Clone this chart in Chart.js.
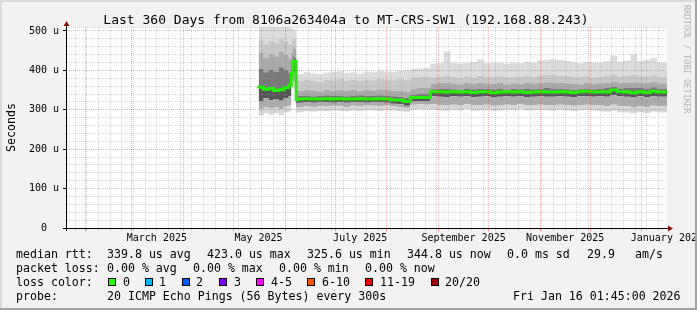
<!DOCTYPE html>
<html lang="en">
<head>
<meta charset="UTF-8">
<title>Last 360 Days from 8106a263404a to MT-CRS-SW1</title>
<script src="https://cdn.jsdelivr.net/npm/chart.js"></script>
<style>
  html, body { margin: 0; padding: 0; background: #f2f2f2; }
  #wrap { width: 697px; height: 310px; }
</style>
</head>
<body>
<div id="wrap"><canvas id="rttChart" width="697" height="310"></canvas></div>
<script>
// x values are days since the start of the window (Jan 21 2025 01:45)
const days = [115, 118, 121, 124, 127, 130, 133, 134.5,
  135.5, 136.5, 137.5,
  138.5, 142, 146, 150, 154, 158, 162, 166, 170, 174, 178, 182, 186, 190, 194, 198, 202, 206, 210, 214, 218,
  222, 226, 230, 234, 238, 242, 246, 250, 254, 258, 262, 266, 270, 274, 278, 282, 286, 290, 294, 298,
  302, 306, 310, 314, 318, 322, 326, 330, 334, 338, 342, 346, 350, 354, 358, 360];

// median rtt, microseconds
const medianRtt = [355, 357, 352, 354, 349, 351, 356, 362,
  392, 423, 423,
  326, 327, 328, 327, 327, 328, 327, 328, 327, 327, 328, 327, 327, 328, 327, 325, 325, 321, 331, 331, 331,
  346, 346, 345, 346, 345, 346, 344, 345, 346, 343, 345, 346, 345, 346, 344, 345, 346, 345, 345, 346,
  345, 344, 346, 347, 345, 346, 345, 350, 346, 345, 343, 346, 344, 347, 345, 345];

// smoke: spread of the 20 pings, lowest to highest
const smokeLow = [290, 286, 292, 288, 291, 287, 293, 296,
  352, 356, 350,
  292, 294, 296, 295, 297, 296, 298, 297, 296, 298, 297, 299, 298, 297, 299, 298, 296, 295, 300, 301, 300,
  300, 299, 298, 300, 299, 301, 298, 299, 300, 297, 299, 300, 299, 301, 298, 299, 300, 299, 298, 300,
  299, 297, 299, 300, 298, 297, 295, 298, 294, 293, 291, 294, 292, 295, 293, 293];
const smokeQ1 = [305, 301, 307, 303, 306, 302, 308, 311,
  362, 372, 366,
  305, 307, 308, 306, 309, 308, 310, 309, 307, 310, 308, 311, 310, 309, 311, 308, 306, 304, 313, 314, 313,
  314, 312, 311, 313, 312, 314, 311, 312, 313, 310, 312, 313, 312, 314, 311, 312, 313, 312, 311, 313,
  312, 310, 312, 313, 311, 311, 309, 313, 309, 308, 306, 309, 307, 310, 308, 308];
const smokeQ2 = [326, 321, 329, 324, 327, 323, 330, 334,
  376, 398, 394,
  317, 318, 319, 318, 319, 320, 318, 319, 318, 319, 320, 318, 319, 320, 318, 315, 314, 310, 321, 322, 321,
  334, 333, 332, 334, 333, 334, 332, 333, 334, 331, 333, 334, 333, 334, 332, 333, 334, 333, 333, 334,
  333, 332, 334, 335, 333, 334, 333, 337, 334, 333, 331, 334, 332, 335, 333, 333];
const smokeQ3 = [398, 405, 395, 402, 396, 408, 400, 392,
  418, 436, 432,
  334, 335, 336, 334, 335, 337, 335, 336, 334, 335, 337, 335, 336, 337, 335, 334, 333, 330, 339, 340, 340,
  352, 353, 354, 352, 351, 353, 352, 354, 353, 352, 353, 351, 353, 352, 354, 352, 353, 355, 354, 353,
  352, 351, 352, 354, 352, 353, 355, 358, 354, 355, 356, 355, 354, 357, 353, 353];
const smokeQ4 = [438, 445, 432, 442, 436, 448, 440, 430,
  446, 460, 455,
  350, 348, 351, 349, 347, 350, 348, 351, 349, 350, 348, 351, 349, 352, 350, 349, 348, 346, 354, 356, 355,
  366, 368, 369, 367, 365, 368, 366, 369, 367, 366, 368, 365, 367, 366, 369, 367, 368, 370, 369, 368,
  367, 366, 365, 368, 366, 367, 369, 372, 368, 369, 370, 369, 368, 371, 367, 367];
const smokeQ5 = [472, 478, 466, 475, 470, 480, 474, 465,
  474, 485, 480,
  376, 373, 377, 374, 372, 376, 375, 378, 374, 376, 373, 377, 375, 379, 377, 375, 378, 376, 382, 384, 383,
  382, 384, 387, 383, 381, 385, 382, 386, 384, 383, 385, 382, 384, 383, 386, 384, 387, 388, 389, 387,
  386, 384, 383, 385, 382, 384, 386, 390, 385, 387, 388, 386, 385, 389, 384, 384];
const smokeHigh = [520, 520, 520, 520, 520, 520, 520, 520,
  505, 505, 500,
  393, 391, 395, 392, 390, 394, 396, 398, 393, 395, 392, 397, 395, 399, 397, 396, 399, 400, 404, 405, 406,
  416, 418, 448, 420, 417, 419, 421, 428, 418, 420, 419, 417, 420, 418, 421, 419, 425, 427, 428, 426,
  424, 420, 418, 421, 419, 420, 423, 438, 422, 425, 440, 424, 426, 432, 420, 420];

// month starts (major grid) and mid-month label positions, in days
const monthStarts = [10.927, 38.927, 69.927, 99.927, 130.927, 160.927, 191.927, 222.927, 252.927, 283.927, 313.927, 344.927];
const monthLabelDays = [53.93, 114.93, 175.93, 237.93, 298.93, 359.93];
const monthLabels = ['March 2025', 'May 2025', 'July 2025', 'September 2025', 'November 2025', 'January 2026'];
const firstSunday = 4.927;

const lossLabels = ['0', '1', '2', '3', '4-5', '6-10', '11-19', '20/20'];
const lossColors = ['#26ff00', '#00b8ff', '#0059ff', '#7e00ff', '#ff00ff', '#ff5500', '#ff0000', '#a10000'];

const MONO = '"DejaVu Sans Mono", monospace';
const MINOR_GRID = 'rgba(150,150,150,0.38)';
const MAJOR_GRID = 'rgba(255,0,0,0.32)';

function pts(arr) {
  return days.map((d, i) => ({ x: d, y: arr[i] }));
}

function band(arr, color) {
  return {
    data: pts(arr),
    stepped: 'after',
    borderWidth: 0,
    borderColor: 'rgba(0,0,0,0)',
    backgroundColor: color,
    pointRadius: 0,
    fill: '-1'
  };
}

const smokeDecor = {
  id: 'smokeDecor',
  beforeDraw(chart) {
    const { ctx, chartArea: a } = chart;
    ctx.save();
    ctx.fillStyle = '#f2f2f2';
    ctx.fillRect(0, 0, chart.width, chart.height);
    ctx.fillStyle = '#ffffff';
    ctx.fillRect(a.left, a.top, a.right - a.left, a.bottom - a.top);
    ctx.restore();
  },
  afterDraw(chart) {
    const { ctx, chartArea: a } = chart;
    const xs = chart.scales.x;
    ctx.save();

    // axes + arrows
    ctx.strokeStyle = '#000';
    ctx.lineWidth = 1;
    ctx.beginPath();
    ctx.moveTo(a.left - 4, a.bottom + 0.5);
    ctx.lineTo(a.right + 3, a.bottom + 0.5);
    ctx.moveTo(a.left - 0.5, a.bottom + 3);
    ctx.lineTo(a.left - 0.5, a.top - 3);
    ctx.stroke();
    ctx.fillStyle = '#8b1010';
    ctx.beginPath();
    ctx.moveTo(a.right + 1, a.bottom - 2.5);
    ctx.lineTo(a.right + 6, a.bottom + 0.5);
    ctx.lineTo(a.right + 1, a.bottom + 3.5);
    ctx.fill();
    ctx.beginPath();
    ctx.moveTo(a.left - 3.5, a.top - 1);
    ctx.lineTo(a.left - 0.5, a.top - 6);
    ctx.lineTo(a.left + 2.5, a.top - 1);
    ctx.fill();

    // title
    ctx.fillStyle = '#000';
    ctx.font = '13px ' + MONO;
    ctx.textAlign = 'center';
    ctx.textBaseline = 'alphabetic';
    ctx.fillText('Last 360 Days from 8106a263404a to MT-CRS-SW1 (192.168.88.243)', 346, 24);

    // month labels
    ctx.font = '10px ' + MONO;
    monthLabels.forEach((m, i) => {
      ctx.fillText(m, xs.getPixelForValue(monthLabelDays[i]), 241);
    });

    // y title
    ctx.save();
    ctx.translate(15, 127.5);
    ctx.rotate(-Math.PI / 2);
    ctx.font = '11.6px ' + MONO;
    ctx.fillText('Seconds', 0, 0);
    ctx.restore();

    // watermark
    ctx.save();
    ctx.translate(684, 5);
    ctx.rotate(Math.PI / 2);
    ctx.font = '8.2px ' + MONO;
    ctx.textAlign = 'left';
    ctx.fillStyle = '#b4b4b4';
    ctx.fillText('RRDTOOL / TOBI OETIKER', 0, 0);
    ctx.restore();

    // legend rows
    ctx.font = '11.6px ' + MONO;
    ctx.textAlign = 'left';
    const rows = [
      [258, [[16, 'median rtt:'], [107, '339.8 us avg'], [207, '423.0 us max'], [307, '325.6 us min'],
             [407, '344.8 us now'], [507, '0.0 ms sd'], [587, '29.9'], [635, 'am/s']]],
      [272, [[16, 'packet loss:'], [107, '0.00 % avg'], [193, '0.00 % max'], [279, '0.00 % min'], [365, '0.00 % now']]],
      [286, [[16, 'loss color:']]],
      [299.5, [[16, 'probe:'], [107, '20 ICMP Echo Pings (56 Bytes) every 300s'], [513, 'Fri Jan 16 01:45:00 2026']]]
    ];
    rows.forEach(([y, items]) => items.forEach(([x, t]) => ctx.fillText(t, x, y)));

    const boxX = [108, 145, 182, 219, 256, 307, 365, 431];
    const textX = [123, 159, 196, 234, 271, 322, 380, 445];
    lossLabels.forEach((l, i) => {
      ctx.fillStyle = '#000';
      ctx.fillRect(boxX[i], 278, 8, 8);
      ctx.fillStyle = lossColors[i];
      ctx.fillRect(boxX[i] + 1, 279, 6, 6);
      ctx.fillStyle = '#000';
      ctx.fillText(l, textX[i], 286);
    });

    // frame
    ctx.fillStyle = '#dadada';
    ctx.fillRect(0, 0, chart.width, 2);
    ctx.fillRect(0, 0, 2, chart.height);
    ctx.fillStyle = '#a2a2a2';
    ctx.fillRect(0, chart.height - 2, chart.width, 2);
    ctx.fillRect(chart.width - 2, 0, 2, chart.height);
    ctx.restore();
  }
};

new Chart(document.getElementById('rttChart'), {
  type: 'line',
  data: {
    datasets: [
      { data: pts(medianRtt), stepped: 'after', borderColor: '#22f000', borderWidth: 3, pointRadius: 0, fill: false },
      { data: pts(medianRtt), stepped: 'after', borderColor: '#000000', borderWidth: 1, pointRadius: 0, fill: false },
      { data: pts(smokeLow), stepped: 'after', borderWidth: 0, borderColor: 'rgba(0,0,0,0)', pointRadius: 0, fill: false },
      band(smokeQ1, '#d6d6d6'),
      band(smokeQ2, '#acacac'),
      band(medianRtt, '#555555'),
      band(smokeQ3, '#787878'),
      band(smokeQ4, '#aaaaaa'),
      band(smokeQ5, '#c8c8c8'),
      band(smokeHigh, '#dddddd')
    ]
  },
  options: {
    responsive: false,
    devicePixelRatio: 1,
    animation: false,
    events: [],
    layout: { padding: { top: 27, right: 30, left: 0, bottom: 0 } },
    plugins: { legend: { display: false }, tooltip: { enabled: false } },
    scales: {
      x: {
        type: 'linear',
        min: 0,
        max: 360,
        afterBuildTicks(scale) {
          const list = monthStarts.map(v => ({ value: v, major: true }));
          for (let d = firstSunday; d < 360; d += 7) list.push({ value: d, major: false });
          list.sort((p, q) => p.value - q.value);
          scale.ticks = list;
        },
        afterFit(scale) { scale.height = 82; },
        ticks: { display: false },
        grid: {
          z: 1,
          color: c => c.tick && c.tick.major ? MAJOR_GRID : MINOR_GRID,
          tickColor: c => c.tick && c.tick.major ? 'rgba(255,0,0,0.5)' : MINOR_GRID,
          tickLength: 3
        },
        border: { display: false, dash: [1, 1] }
      },
      y: {
        type: 'linear',
        min: 0,
        max: 510,
        afterBuildTicks(scale) {
          const list = [];
          for (let v = 0; v <= 500; v += 20) list.push({ value: v });
          list.push({ value: 510 });
          scale.ticks = list;
        },
        afterFit(scale) { scale.width = 67; },
        ticks: {
          autoSkip: false,
          padding: 4,
          color: '#000',
          font: { family: MONO, size: 10 },
          callback: v => v % 100 === 0 ? (v === 0 ? '0  ' : v + ' u') : ''
        },
        grid: {
          z: 1,
          color: c => c.tick && c.tick.value % 100 === 0 && c.tick.value > 0 ? MAJOR_GRID : MINOR_GRID,
          tickColor: c => c.tick && c.tick.value % 100 === 0 ? '#000' : 'rgba(0,0,0,0)',
          tickLength: 4
        },
        border: { display: false, dash: [1, 1] }
      }
    }
  },
  plugins: [smokeDecor]
});
</script>
</body>
</html>
